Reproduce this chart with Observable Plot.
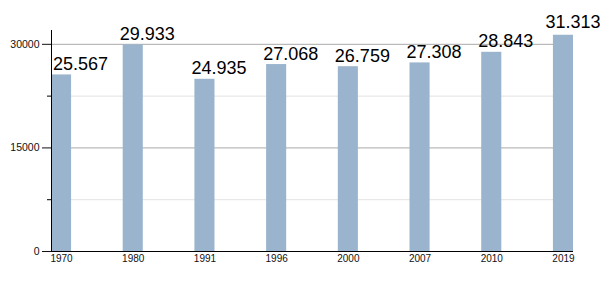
<!DOCTYPE html>
<html>
<head>
<meta charset="utf-8">
<script src="https://cdn.jsdelivr.net/npm/d3@7"></script>
<script src="https://cdn.jsdelivr.net/npm/@observablehq/plot@0.6"></script>
<style>
  html, body { margin: 0; padding: 0; background: #fff; }
  svg { font-family: "Liberation Sans", Arial, sans-serif; }
</style>
</head>
<body>
<div id="chart"></div>
<script>
const years = ["1970", "1980", "1991", "1996", "2000", "2007", "2010", "2019"];
const population = [25567, 29933, 24935, 27068, 26759, 27308, 28843, 31313];
const majorTicks = [0, 15000, 30000];
const minorTicks = [7500, 22500];

const data = years.map((y, i) => ({year: y, value: population[i]}));
const fmt = v => d3.format(",")(v).replace(/,/g, ".");
const firstYear = years[0];
const lastYear = years[years.length - 1];
const middle = data.filter(d => d.year !== firstYear && d.year !== lastYear);

const labelStyle = {x: "year", y: "value", text: d => fmt(d.value), lineAnchor: "bottom", fontSize: 18, fill: "#000"};

const chart = Plot.plot({
  width: 600,
  height: 300,
  marginLeft: 51,
  marginRight: 27,
  marginTop: 30,
  marginBottom: 49,
  style: {fontFamily: "'Liberation Sans', Arial, sans-serif", background: "#fff", overflow: "visible"},
  x: {domain: years, paddingInner: 0.72, paddingOuter: 0, round: false, label: null},
  y: {domain: [0, 32000], label: null},
  marks: [
    Plot.ruleY(minorTicks, {stroke: "#e2e2e2", strokeWidth: 1}),
    Plot.ruleY([15000, 30000], {stroke: "#aaaaaa", strokeWidth: 1}),
    Plot.barY(data, {x: "year", y: "value", fill: "#9bb4cd"}),
    Plot.text(data.filter(d => d.year === firstYear), {...labelStyle, textAnchor: "start", dx: -8.5, dy: -5}),
    Plot.text(middle, {...labelStyle, textAnchor: "start", dx: -13.5, dy: -5}),
    Plot.text(data.filter(d => d.year === lastYear), {...labelStyle, textAnchor: "end", dx: 37, dy: -7}),
    Plot.axisX({tickSize: 0, tickPadding: 3, fontSize: 10, label: null, color: "#111"}),
    Plot.axisY({ticks: majorTicks, tickSize: 9, tickPadding: 3, fontSize: 10.5, label: null, tickFormat: d => String(d), color: "#111"}),
    Plot.axisY({ticks: minorTicks, tickSize: 4, tickFormat: () => "", label: null}),
    Plot.frame({anchor: "left", stroke: "#000"}),
    Plot.ruleY([0], {stroke: "#000", strokeWidth: 1.2})
  ]
});
document.getElementById("chart").appendChild(chart);
</script>
</body>
</html>
